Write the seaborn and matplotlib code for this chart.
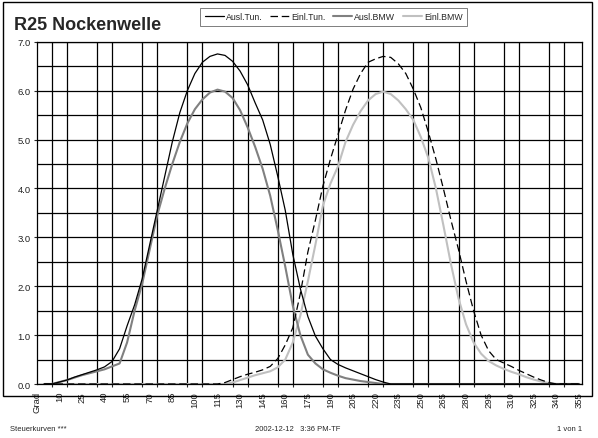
import numpy as np
import pandas as pd
import seaborn as sns
import matplotlib.pyplot as plt
from matplotlib.patches import Rectangle
from matplotlib.ticker import MultipleLocator, FixedLocator, FormatStrFormatter

sns.set_style("white")
plt.rcParams['font.family'] = ['Liberation Sans', 'DejaVu Sans']

# Grad, 0..355 in 5 degree steps
grad = list(range(0, 360, 5))

ausl_tun = [0, 0, 0.04, 0.08, 0.14, 0.19, 0.24, 0.29, 0.35, 0.46,
            0.72, 1.19, 1.62, 2.15, 2.85, 3.55, 4.25, 4.95, 5.55, 6.0,
            6.35, 6.58, 6.7, 6.75, 6.72, 6.6, 6.4, 6.12, 5.75, 5.4,
            4.9, 4.25, 3.55, 2.65, 1.95, 1.38, 0.98, 0.72, 0.5, 0.4,
            0.33, 0.27, 0.21, 0.15, 0.09, 0.04, 0, 0, 0, 0,
            0, 0, 0, 0, 0, 0, 0, 0, 0, 0,
            0, 0, 0, 0, 0, 0, 0, 0, 0, 0,
            0, 0]

einl_tun = [0, 0, 0, 0, 0, 0, 0, 0, 0, 0,
            0, 0, 0, 0, 0, 0, 0, 0, 0, 0,
            0, 0, 0, 0, 0.03, 0.09, 0.15, 0.2, 0.24, 0.29,
            0.36, 0.52, 0.8, 1.15, 1.85, 2.7, 3.35, 4.05, 4.6, 5.1,
            5.6, 6.03, 6.35, 6.58, 6.65, 6.7, 6.68, 6.55, 6.35, 6.03,
            5.65, 5.15, 4.6, 3.99, 3.35, 2.75, 2.1, 1.5, 1.0, 0.68,
            0.5, 0.43, 0.36, 0.28, 0.21, 0.14, 0.08, 0.03, 0, 0,
            0, 0]

ausl_bmw = [0, 0, 0.04, 0.08, 0.13, 0.18, 0.22, 0.26, 0.3, 0.36,
            0.42, 0.85, 1.5, 2.05, 2.75, 3.45, 4.0, 4.5, 4.95, 5.33,
            5.62, 5.82, 5.96, 6.02, 5.98, 5.85, 5.6, 5.25, 4.85, 4.4,
            3.85, 3.15, 2.4, 1.6, 1.0, 0.6, 0.42, 0.3, 0.23, 0.17,
            0.12, 0.09, 0.06, 0.04, 0.02, 0, 0, 0, 0, 0,
            0, 0, 0, 0, 0, 0, 0, 0, 0, 0,
            0, 0, 0, 0, 0, 0, 0, 0, 0, 0,
            0, 0]

einl_bmw = [0, 0, 0, 0, 0, 0, 0, 0, 0, 0,
            0, 0, 0, 0, 0, 0, 0, 0, 0, 0,
            0, 0, 0, 0, 0, 0.03, 0.08, 0.13, 0.18, 0.22,
            0.26, 0.34, 0.5, 0.85, 1.4, 2.1, 2.85, 3.65, 4.1, 4.45,
            4.95, 5.3, 5.58, 5.8, 5.93, 5.98, 5.93, 5.8, 5.62, 5.4,
            5.05, 4.62, 4.0, 3.24, 2.45, 1.75, 1.22, 0.85, 0.62, 0.47,
            0.38, 0.31, 0.25, 0.2, 0.14, 0.09, 0.05, 0.02, 0, 0,
            0, 0]

tick_pos = [-5] + list(range(10, 360, 15))
tick_labels = ['Grad'] + [str(v) for v in range(10, 360, 15)]

df = pd.DataFrame({'Grad': grad, 'Ausl.Tun.': ausl_tun, 'Einl.Tun.': einl_tun,
                   'Ausl.BMW': ausl_bmw, 'Einl.BMW': einl_bmw})

fig = plt.figure(figsize=(5.98, 4.39), dpi=100)
ax = fig.add_axes([0.0614, 0.1230, 0.9119, 0.7797])

sns.lineplot(data=df, x='Grad', y='Einl.BMW', color='#c0c0c0', lw=1.5, ax=ax, legend=False, label='Einl.BMW')
sns.lineplot(data=df, x='Grad', y='Ausl.BMW', color='#808080', lw=1.5, ax=ax, legend=False, label='Ausl.BMW')
sns.lineplot(data=df, x='Grad', y='Einl.Tun.', color='black', lw=0.9, linestyle=(0, (6, 3)), ax=ax, legend=False, label='Einl.Tun.')
sns.lineplot(data=df, x='Grad', y='Ausl.Tun.', color='black', lw=0.9, ax=ax, legend=False, label='Ausl.Tun.')

ax.set_xlim(-5, 357)
ax.set_ylim(0, 7)
ax.set_xlabel('')
ax.set_ylabel('')

ax.xaxis.set_major_locator(FixedLocator(tick_pos))
ax.set_xticklabels(tick_labels, rotation=90, fontsize=6.8, color='#222222')
ax.xaxis.set_minor_locator(FixedLocator(list(range(-5, 360, 10))))
ax.yaxis.set_major_locator(MultipleLocator(1))
ax.yaxis.set_minor_locator(MultipleLocator(0.5))
ax.yaxis.set_major_formatter(FormatStrFormatter('%.1f'))
ax.tick_params(axis='y', which='major', labelsize=6.8, labelcolor='#222222', length=2.5, width=0.8,
               direction='out', pad=2, left=True)
ax.tick_params(axis='y', which='minor', length=0)
ax.tick_params(axis='x', which='major', length=0, pad=5, bottom=True)
ax.tick_params(axis='x', which='minor', length=2.5, width=0.8, direction='out', bottom=True)

ax.grid(False)
ax.grid(True, which='minor', axis='both', color='black', lw=0.9)
ax.grid(True, which='major', axis='y', color='black', lw=0.9)
for s in ax.spines.values():
    s.set_color('black')
    s.set_linewidth(0.9)

h, l = ax.get_legend_handles_labels()
order = ['Ausl.Tun.', 'Einl.Tun.', 'Ausl.BMW', 'Einl.BMW']
hd = dict(zip(l, h))
leg = fig.legend([hd[k] for k in order], order, loc='center', bbox_to_anchor=(0.558, 0.959),
                 ncol=4, fontsize=6.3, frameon=True, fancybox=False, edgecolor='#444444',
                 borderpad=0.5, handlelength=2.2, handletextpad=0.2, columnspacing=0.9)
leg.get_frame().set_linewidth(0.6)

fig.text(14 / 598, 1 - 30 / 439, 'R25 Nockenwelle', fontsize=13, fontweight='bold', ha='left', va='baseline')

fig.patches.append(Rectangle((3 / 598, 42 / 439), 589 / 598, 394 / 439, transform=fig.transFigure,
                             fill=False, edgecolor='black', lw=1.0))

fig.text(10 / 598, 1 - 430 / 439, 'Steuerkurven ***', fontsize=5.5, ha='left', va='center')
fig.text(298 / 598, 1 - 430 / 439, '2002-12-12   3:36 PM-TF', fontsize=5.5, ha='center', va='center')
fig.text(582 / 598, 1 - 430 / 439, '1 von 1', fontsize=5.5, ha='right', va='center')

fig.savefig('out.png', dpi=100)
